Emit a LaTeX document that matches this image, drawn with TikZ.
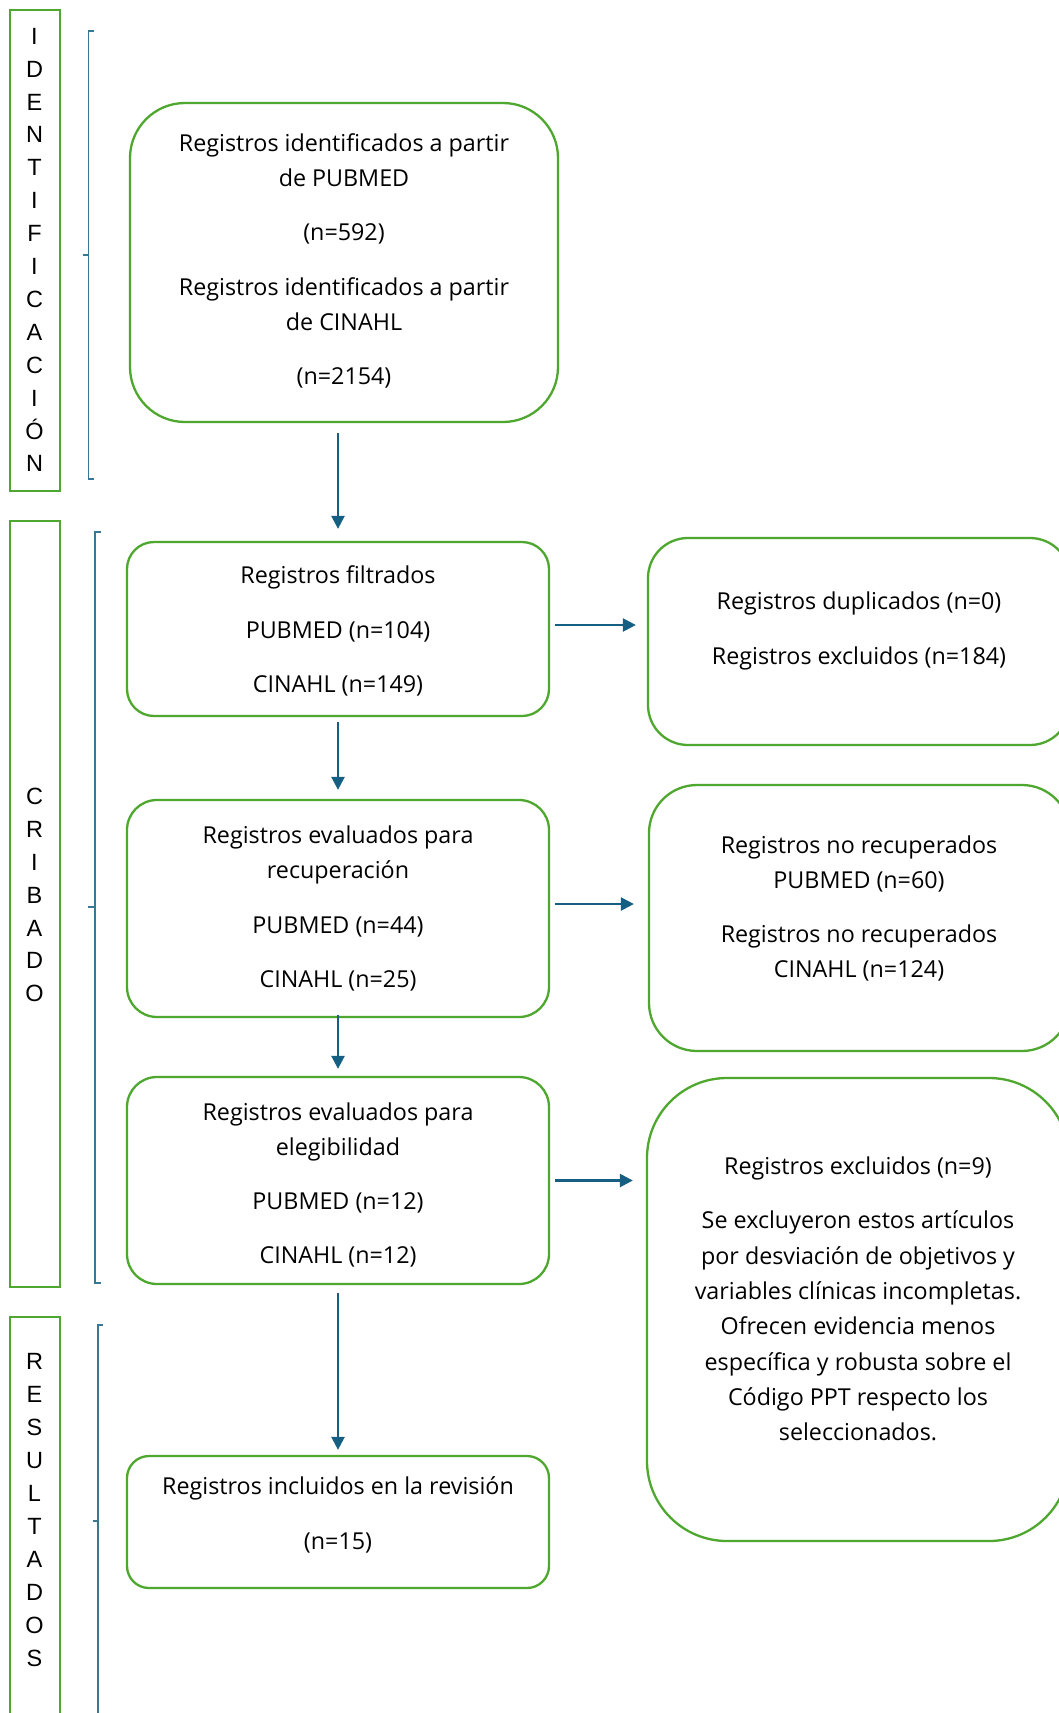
\documentclass[tikz,border=0pt]{standalone}
\usepackage{fontspec}
\setmainfont{Open Sans}
\newfontfamily\sidefont{Liberation Sans}
\usetikzlibrary{arrows.meta}
\definecolor{boxgreen}{HTML}{4EA72E}
\definecolor{arrblue}{HTML}{156082}
\begin{document}
\begin{tikzpicture}[x=1pt,y=-1pt,
  box/.style={draw=boxgreen,line width=2.3pt,inner sep=0pt,rectangle},
  sidebar/.style={draw=boxgreen,line width=2.3pt,inner sep=0pt,rectangle},
  txt/.style={align=center,inner sep=0pt,font=\fontsize{23.3}{35.3}\selectfont},
  sidelbl/.style={align=center,inner sep=0pt,font=\sidefont\fontsize{23.5}{32.9}\selectfont},
  arr/.style={draw=arrblue,line width=2.4pt,-{Triangle[length=13pt,width=13pt]}},
  bracket/.style={draw=arrblue!85,line width=1.2pt}]
\useasboundingbox (0,0) rectangle (1059,1713);
\fill[white] (0,0) rectangle (1059,1713);

% side bars
\node[sidebar,minimum width=50pt,minimum height=481pt] (barid) at (35,250.5) {};
\node[sidebar,minimum width=50pt,minimum height=766pt] (barcr) at (35,904) {};
\node[sidebar,minimum width=50pt,minimum height=420pt] (barre) at (35,1527) {};
\node[sidelbl] (lid) at (34.5,250) {I\\D\\E\\N\\T\\I\\F\\I\\C\\A\\C\\I\\Ó\\N};
\node[sidelbl] (lcr) at (34.5,895) {C\\R\\I\\B\\A\\D\\O};
\node[sidelbl] (lre) at (34.5,1510) {R\\E\\S\\U\\L\\T\\A\\D\\O\\S};

% brackets
\draw[bracket] (94,31) -- (88.5,31) -- (88.5,479) -- (94,479);
\draw[bracket] (88.5,255) -- (83,255);
\draw[bracket] (101,532) -- (95,532) -- (95,1283) -- (101,1283);
\draw[bracket] (95,907) -- (88,907);
\draw[bracket] (103,1325) -- (98,1325) -- (98,1720);
\draw[bracket] (98,1521) -- (93,1521);

% main boxes
\node[box,rounded corners=55pt,minimum width=428pt,minimum height=319pt] (b1) at (344,262.5) {};
\node[box,rounded corners=27pt,minimum width=422pt,minimum height=174pt] (b2) at (338,629) {};
\node[box,rounded corners=30pt,minimum width=422pt,minimum height=217pt] (b3) at (338,908.5) {};
\node[box,rounded corners=30pt,minimum width=422pt,minimum height=207pt] (b4) at (338,1180.5) {};
\node[box,rounded corners=22pt,minimum width=422pt,minimum height=132pt] (b5) at (338,1522) {};
% right boxes
\node[box,rounded corners=40pt,minimum width=422pt,minimum height=207pt] (r1) at (859,641.5) {};
\node[box,rounded corners=48pt,minimum width=421pt,minimum height=266pt] (r2) at (859.5,918) {};
\node[box,rounded corners=80pt,minimum width=422pt,minimum height=463pt] (r3) at (858,1309.5) {};

% texts
\node[txt] (t1) at (344,261) {Registros identificados a partir\\de PUBMED\\[19pt](n=592)\\[19pt]Registros identificados a partir\\de CINAHL\\[19pt](n=2154)};
\node[txt] (t2) at (338,631) {Registros filtrados\\[19pt]PUBMED (n=104)\\[19pt]CINAHL (n=149)};
\node[txt] (t3) at (338,908.5) {Registros evaluados para\\recuperación\\[19pt]PUBMED (n=44)\\[19pt]CINAHL (n=25)};
\node[txt] (t4) at (338,1185) {Registros evaluados para\\elegibilidad\\[19pt]PUBMED (n=12)\\[19pt]CINAHL (n=12)};
\node[txt] (t5) at (338,1515) {Registros incluidos en la revisión\\[19pt](n=15)};
\node[txt] (tr1) at (859,631) {Registros duplicados (n=0)\\[19pt]Registros excluidos (n=184)};
\node[txt] (tr2) at (859,908.5) {Registros no recuperados\\PUBMED (n=60)\\[19pt]Registros no recuperados\\CINAHL (n=124)};
\node[txt] (tr3) at (858,1299) {Registros excluidos (n=9)\\[19pt]Se excluyeron estos artículos\\por desviación de objetivos y\\variables clínicas incompletas.\\Ofrecen evidencia menos\\específica y robusta sobre el\\Código PPT respecto los\\seleccionados.};

% arrows
\draw[arr,shorten <=10pt,shorten >=12pt] (b1.south -| b2.north) -- (b2.north);
\draw[arr,shorten <=5pt,shorten >=9pt] (b2.south) -- (b3.north);
\draw[arr,shorten <=-3pt,shorten >=7pt] (b3.south) -- (b4.north);
\draw[arr,shorten <=8pt,shorten >=5pt] (b4.south) -- (b5.north);
\draw[arr,shorten <=5pt,shorten >=11pt] ([yshift=4pt]b2.east) -- ([yshift=4pt]b2.east -| r1.west);
\draw[arr,shorten <=5pt,shorten >=14pt] ([yshift=4.5pt]b3.east) -- ([yshift=4.5pt]b3.east -| r2.west);
\draw[arr,shorten <=5pt,shorten >=13pt] (b4.east) -- (b4.east -| r3.west);
\end{tikzpicture}
\end{document}
